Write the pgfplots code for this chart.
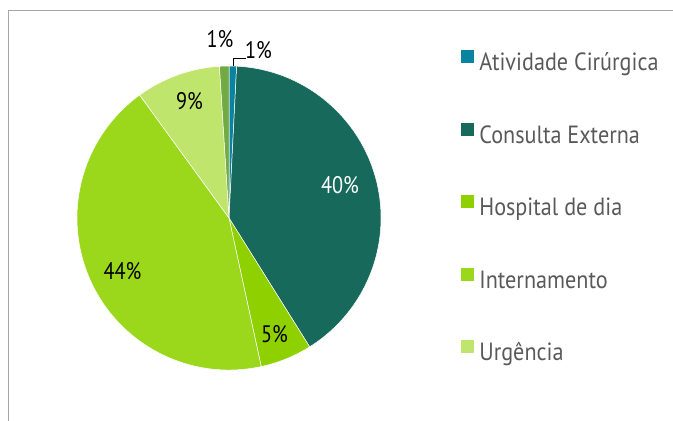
\documentclass[border=0pt]{standalone}
\usepackage{pgfplots}
\pgfplotsset{compat=1.18}
\usepackage{fontspec}
\setmainfont{PT Sans}[FakeStretch=0.85]
\newfontfamily\legfont{PT Sans}[FakeStretch=0.89]
\definecolor{c1}{HTML}{0A83A0}
\definecolor{c2}{HTML}{17695B}
\definecolor{c3}{HTML}{8ED000}
\definecolor{c4}{HTML}{9BD81B}
\definecolor{c5}{HTML}{BFE56D}
\definecolor{c6}{HTML}{72AA43}
\definecolor{framegray}{HTML}{A6A6A6}
\definecolor{legendgray}{HTML}{595959}
\newcommand{\pctfont}{\fontsize{24}{28}\selectfont}
\begin{document}
\begin{tikzpicture}
\useasboundingbox (0,0) rectangle (673bp,421bp);
\draw[color=framegray, line width=1.2bp] (8.6bp,-2bp) -- (8.6bp,410.5bp) -- (675bp,410.5bp);
\begin{axis}[
  at={(229bp,203bp)}, anchor=origin,
  x=152bp, y=152bp,
  xmin=-1, xmax=1, ymin=-1, ymax=1,
  hide axis, clip=false,
  legend cell align=left,
  legend style={at={(axis cs:1.526,1.105)}, anchor=north west,
    draw=none, fill=none, inner sep=0pt, outer sep=0pt,
    row sep=46.8bp, column sep=6bp,
    font=\legfont\fontsize{25}{29}\selectfont, text=legendgray,
    nodes={inner sep=0pt, text height=17bp, text depth=5bp}},
]
\addlegendimage{legend image code/.code={\fill[c1] (0bp,2.5bp) rectangle (12bp,14.5bp);}}
\addlegendentry{Atividade Cirúrgica}
\addlegendimage{legend image code/.code={\fill[c2] (0bp,2.5bp) rectangle (12bp,14.5bp);}}
\addlegendentry{Consulta Externa}
\addlegendimage{legend image code/.code={\fill[c3] (0bp,2.5bp) rectangle (12bp,14.5bp);}}
\addlegendentry{Hospital de dia}
\addlegendimage{legend image code/.code={\fill[c4] (0bp,2.5bp) rectangle (12bp,14.5bp);}}
\addlegendentry{Internamento}
\addlegendimage{legend image code/.code={\fill[c5] (0bp,2.5bp) rectangle (12bp,14.5bp);}}
\addlegendentry{Urgência}

\gdef\cum{0}
\foreach \v/\c in {0.8/c1, 40.3/c2, 5.5/c3, 43.4/c4, 9.0/c5, 1.0/c6}{
  \pgfmathsetmacro\a{90-3.6*\cum}
  \pgfmathsetmacro\b{90-3.6*(\cum+\v)}
  \edef\temp{\noexpand\filldraw[fill=\c, draw=white, line width=0.5bp] (axis cs:0,0) -- (axis cs:{cos(\a)},{sin(\a)}) arc[start angle=\a, end angle=\b, radius=152bp] -- cycle;}
  \temp
  \pgfmathsetmacro\n{\cum+\v}\xdef\cum{\n}
}

\node[font=\pctfont, text=white] at (axis cs:0.730,0.217) {40\%};
\node[font=\pctfont, text=black] at (axis cs:0.299,-0.766) {5\%};
\node[font=\pctfont, text=black] at (axis cs:-0.701,-0.349) {44\%};
\node[font=\pctfont, text=black] at (axis cs:-0.260,0.770) {9\%};
\node[font=\pctfont, text=black] at (axis cs:-0.059,1.178) {1\%};
\node[font=\pctfont, text=black] at (axis cs:0.194,1.105) {1\%};
\draw[black, line width=0.8bp] (axis cs:0.026,0.997) -- (axis cs:0.026,1.053) -- (axis cs:0.112,1.053);
\end{axis}
\end{tikzpicture}
\end{document}
